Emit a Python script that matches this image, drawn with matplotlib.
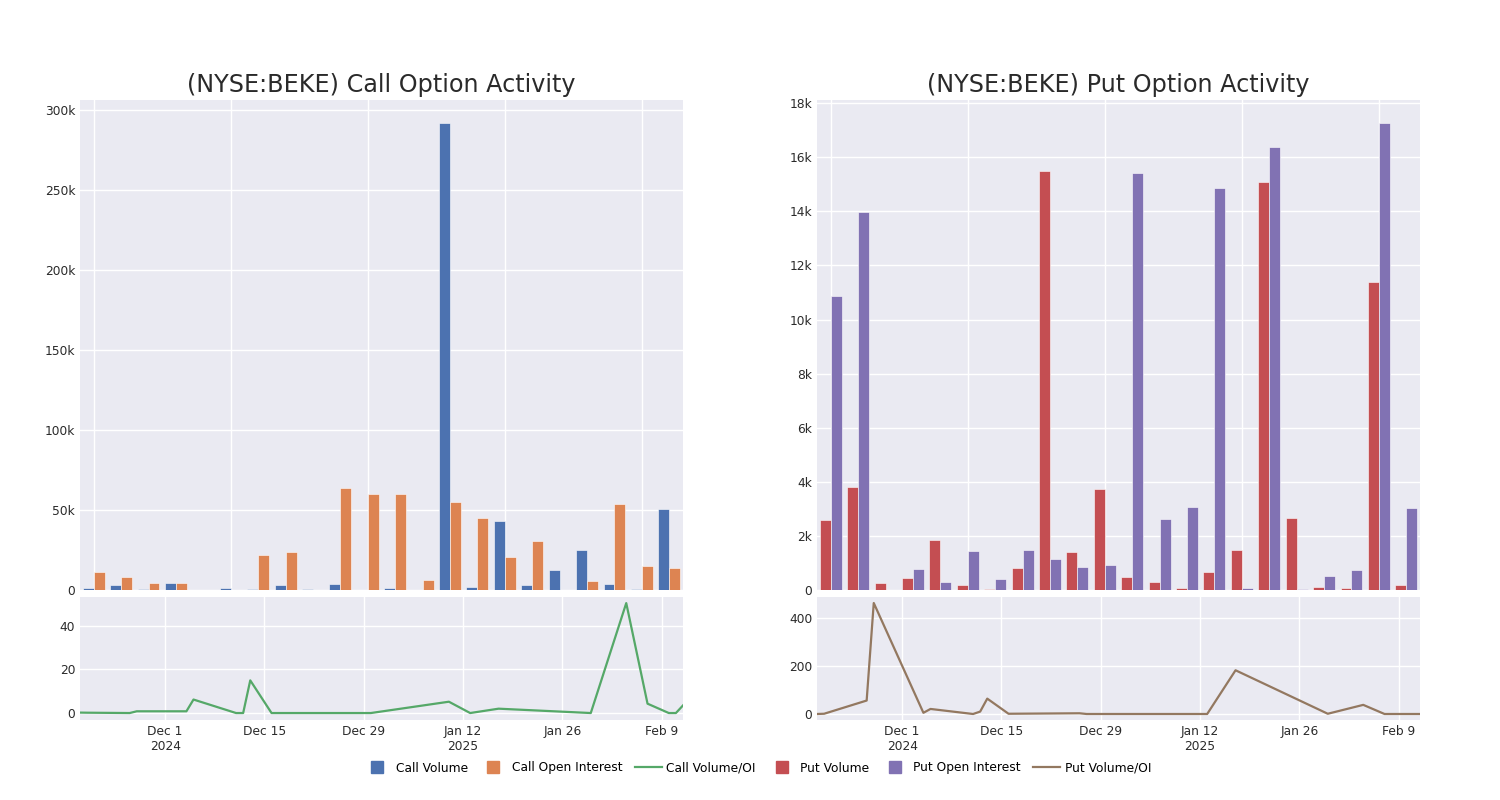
import matplotlib
matplotlib.use("Agg")
import matplotlib.pyplot as plt
from matplotlib.lines import Line2D
from matplotlib.ticker import FuncFormatter
import numpy as np
import pandas as pd

dates = pd.to_datetime([
    "2024-11-19", "2024-11-20", "2024-11-26", "2024-11-27", "2024-12-04",
    "2024-12-05", "2024-12-11", "2024-12-12", "2024-12-13", "2024-12-16",
    "2024-12-26", "2024-12-27", "2024-12-30", "2025-01-10", "2025-01-13",
    "2025-01-17", "2025-01-30", "2025-02-04", "2025-02-07", "2025-02-10",
    "2025-02-11", "2025-02-12",
])

call_volume = [1200, 2900, 600, 4600, 300, 1200, 400, 3300, 600, 3500, 0,
               1200, 300, 291500, 1700, 43100, 3100, 12500, 25000, 4000, 400, 50400]
call_oi = [11200, 8100, 4200, 4600, 300, 300, 21700, 24000, 0, 64000, 59800,
           59800, 6000, 54800, 45000, 20600, 30400, 200, 5400, 54000, 14800, 13500]
call_ratio = [0.2, 0.15, 0, 0.8, 0.8, 6.2, 0, 0, 15, 0, 0, 0, 0, 5.2, 0, 2,
              0, 50.5, 4.3, 0, 0, 3.5]

put_volume = [2580, 3810, 250, 440, 1840, 200, 50, 800, 15500, 1420, 3730,
              470, 300, 70, 680, 1470, 15100, 2650, 100, 60, 11400, 170]
put_oi = [10890, 13990, 0, 790, 300, 1460, 410, 1480, 1140, 850, 940, 15410,
          2630, 3060, 14850, 70, 16400, 50, 500, 740, 17260, 3020]
put_ratio = [0, 1, 56, 462, 5, 21, 0, 10, 64, 1, 3, 0, 0, 0, 0, 182, 1, 38,
             0, 0, 0, 0]

BG = "#EAEAF2"
C_BLUE, C_ORANGE, C_GREEN = "#4C72B0", "#DD8452", "#55A868"
C_RED, C_PURPLE, C_BROWN = "#C44E52", "#8172B3", "#937860"
FS = 8.8


def kfmt(v, pos):
    if v == 0:
        return "0"
    return f"{v / 1000:g}k"


def style(ax):
    ax.set_facecolor(BG)
    ax.grid(True, color="white", linewidth=1.0)
    ax.set_axisbelow(True)
    for s in ax.spines.values():
        s.set_visible(False)
    ax.tick_params(length=0, labelsize=FS, colors="#2a2a2a")


def bar_panel(ax, vol, oi, c1, c2, ymax, step, title):
    style(ax)
    x = np.arange(len(vol))
    ax.bar(x - 0.2, vol, width=0.4, color=c1, edgecolor="white", linewidth=0.4)
    ax.bar(x + 0.2, oi, width=0.4, color=c2, edgecolor="white", linewidth=0.4)
    ax.set_xlim(-0.5, len(vol) - 0.5)
    ax.set_xticks([0, 5, 10, 15, 20])
    ax.set_xticklabels([])
    ax.set_ylim(0, ymax)
    ax.set_yticks(np.arange(0, ymax, step))
    ax.yaxis.set_major_formatter(FuncFormatter(kfmt))
    ax.set_title(title, fontsize=17.2, color="#2a2a2a", pad=6)


def line_panel(ax, vals, color, ylim, yticks):
    style(ax)
    ax.plot(dates, vals, color=color, linewidth=1.6)
    ax.set_xlim(pd.Timestamp("2024-11-19"), pd.Timestamp("2025-02-12"))
    ticks = pd.to_datetime(["2024-12-01", "2024-12-15", "2024-12-29",
                            "2025-01-12", "2025-01-26", "2025-02-09"])
    ax.set_xticks(ticks)
    ax.set_xticklabels(["Dec 1\n2024", "Dec 15", "Dec 29", "Jan 12\n2025",
                        "Jan 26", "Feb 9"])
    ax.set_ylim(*ylim)
    ax.set_yticks(yticks)


fig = plt.figure(figsize=(15, 8), dpi=100)

ax1 = fig.add_axes([80 / 1500, 0.2625, 603 / 1500, 0.6125])
ax2 = fig.add_axes([80 / 1500, 0.1, 603 / 1500, 0.15375])
ax3 = fig.add_axes([817 / 1500, 0.2625, 603 / 1500, 0.6125])
ax4 = fig.add_axes([817 / 1500, 0.1, 603 / 1500, 0.15375])

bar_panel(ax1, call_volume, call_oi, C_BLUE, C_ORANGE, 306000, 50000,
          "(NYSE:BEKE) Call Option Activity")
line_panel(ax2, call_ratio, C_GREEN, (-3.2, 53.3), [0, 20, 40])
bar_panel(ax3, put_volume, put_oi, C_RED, C_PURPLE, 18120, 2000,
          "(NYSE:BEKE) Put Option Activity")
line_panel(ax4, put_ratio, C_BROWN, (-25, 487), [0, 200, 400])


def sq(color, label):
    return Line2D([], [], linestyle="none", marker="s", markersize=9,
                  markerfacecolor=color, markeredgecolor=color, label=label)


handles = [
    sq(C_BLUE, "Call Volume"),
    sq(C_ORANGE, "Call Open Interest"),
    Line2D([], [], color=C_GREEN, linewidth=1.6, label="Call Volume/OI"),
    sq(C_RED, "Put Volume"),
    sq(C_PURPLE, "Put Open Interest"),
    Line2D([], [], color=C_BROWN, linewidth=1.6, label="Put Volume/OI"),
]
fig.legend(handles=handles, loc="center", bbox_to_anchor=(0.505, 0.04), ncol=6,
           frameon=False, fontsize=FS, handlelength=2.2,
           columnspacing=1.0, handletextpad=0.4)

fig.savefig("out.png", dpi=100, facecolor="white")
